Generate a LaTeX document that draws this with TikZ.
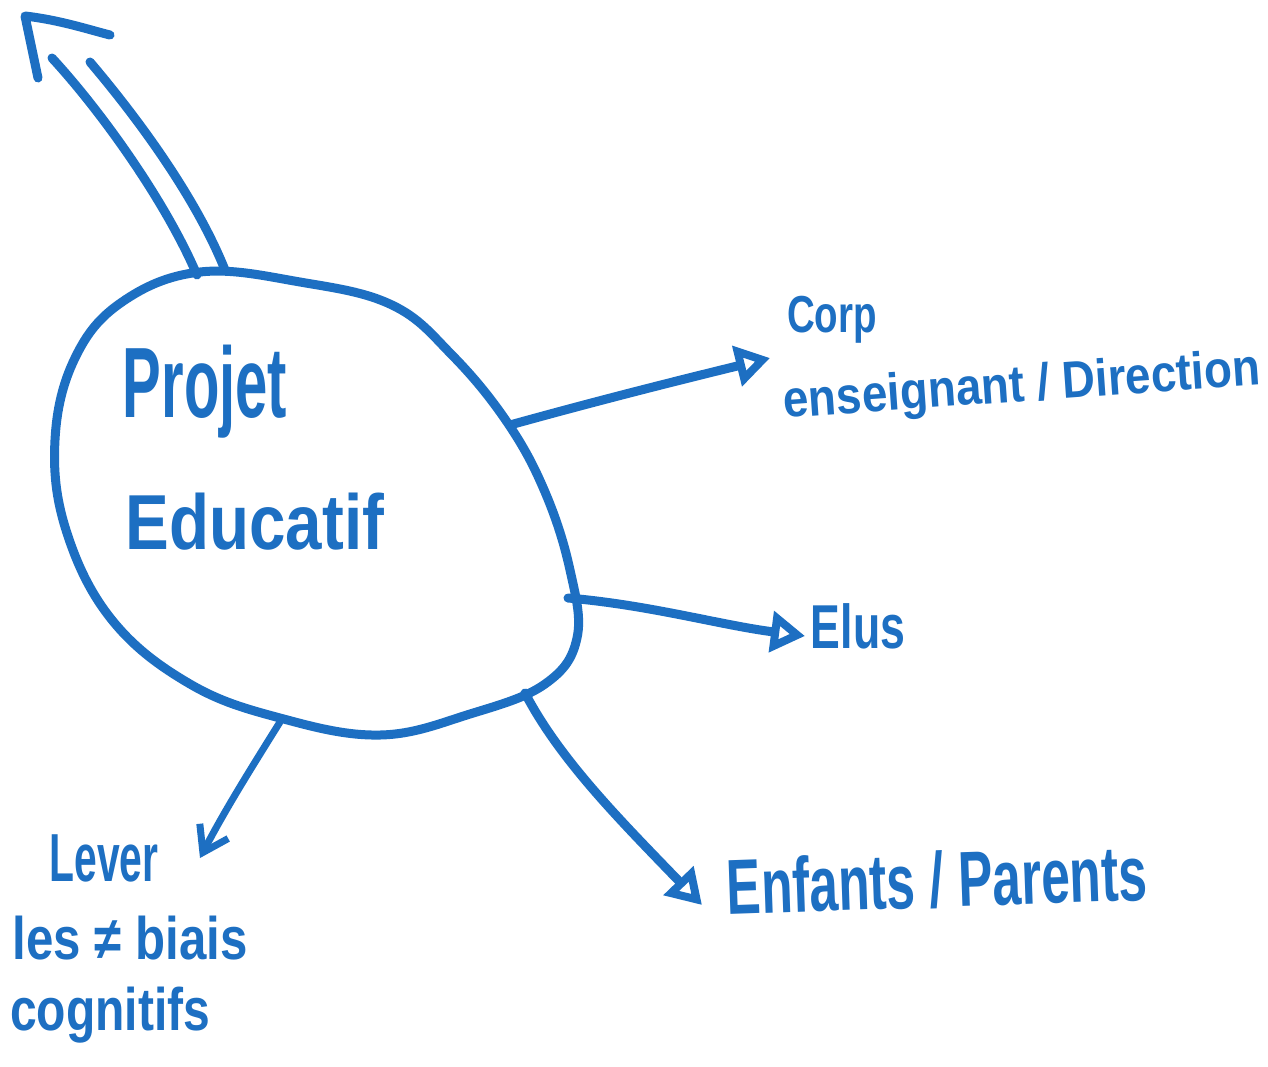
\documentclass[tikz,border=0pt]{standalone}
\usepackage{fontspec}
\setmainfont{Liberation Sans}
\usetikzlibrary{arrows.meta}
\definecolor{pen}{HTML}{1D6FC2}
\tikzset{
  ink/.style={draw=pen, line width=9pt, line cap=round, line join=round},
  thinink/.style={draw=pen, line width=7pt, line cap=round, line join=round},
  lbl/.style={text=pen, inner sep=0pt, anchor=center, font=\bfseries},
  tri/.style={-{Triangle[open, length=34pt, width=40pt, line width=8pt]}},
  vee/.style={-{Straight Barb[length=24pt, width=32pt, line width=7pt]}}
}
\newcommand{\fs}[1]{\fontsize{#1}{#1}\selectfont}
\begin{document}
\begin{tikzpicture}[x=1pt, y=-1pt]
\useasboundingbox[fill=white] (0,0) rectangle (1268,1066);

% blob
\draw[ink] plot[smooth cycle, tension=0.65] coordinates {
 (200,272) (300,282) (392,305) (452,355) (507,422) (545,492) (570,570)
 (577,638) (545,684) (470,714) (380,735) (280,718) (190,684) (112,620)
 (66,530) (55,440) (75,358) (122,302)};

% anchor coordinates on blob
\coordinate (ta) at (197,275);
\coordinate (tb) at (225,270);
\coordinate (cA) at (510,425);
\coordinate (cB) at (568,598);
\coordinate (cC) at (525,693);
\coordinate (cD) at (280,722);

% tips
\coordinate (corpTip) at (770,358);
\coordinate (elusTip) at (805,636);
\coordinate (enfTip) at (702,905);
\coordinate (levTip) at (200,858);
\coordinate (ua) at (52,58);
\coordinate (ub) at (90,62);
\coordinate (h1) at (38,78);
\coordinate (h2) at (25,16);
\coordinate (h3) at (110,35);

% double arrow
\draw[ink] (ta) .. controls (165,200) and (100,110) .. (ua);
\draw[ink] (tb) .. controls (195,195) and (135,115) .. (ub);
\draw[ink] (h1) -- (h2) .. controls (60,20) and (90,30) .. (h3);

% labels
\node[lbl] (projet) at (205,392) {\scalebox{0.58}[1]{\fs{100}Projet}};
\node[lbl] (educ) at (255,522) {\scalebox{0.84}[1]{\fs{78}Educatif}};
\node[lbl] (corp) at (832,320) {\scalebox{0.74}[1]{\fs{52}Corp}};
\node[lbl, rotate=4] (dir) at (1022,388) {\scalebox{0.88}[1]{\fs{52}enseignant / Direction}};
\node[lbl] (elus) at (858,626) {\scalebox{0.72}[1]{\fs{62}Elus}};
\node[lbl, rotate=2] (enf) at (937,880) {\scalebox{0.66}[1]{\fs{78}Enfants / Parents}};
\node[lbl] (lever) at (104,858) {\scalebox{0.6}[1]{\fs{68}Lever}};
\node[lbl] (biais) at (130,938) {\scalebox{0.82}[1]{\fs{60}les ≠ biais}};
\node[lbl] (cogn) at (110,1015) {\scalebox{0.8}[1]{\fs{60}cognitifs}};

% connectors
\draw[ink, tri] (cA) .. controls (600,400) and (680,380) .. (corpTip);
\draw[ink, tri] (cB) .. controls (650,605) and (720,625) .. (elusTip);
\draw[ink, tri] (cC) .. controls (560,760) and (620,820) .. (enfTip);
\draw[thinink, vee] (cD) .. controls (250,770) and (225,810) .. (levTip);
\end{tikzpicture}
\end{document}
